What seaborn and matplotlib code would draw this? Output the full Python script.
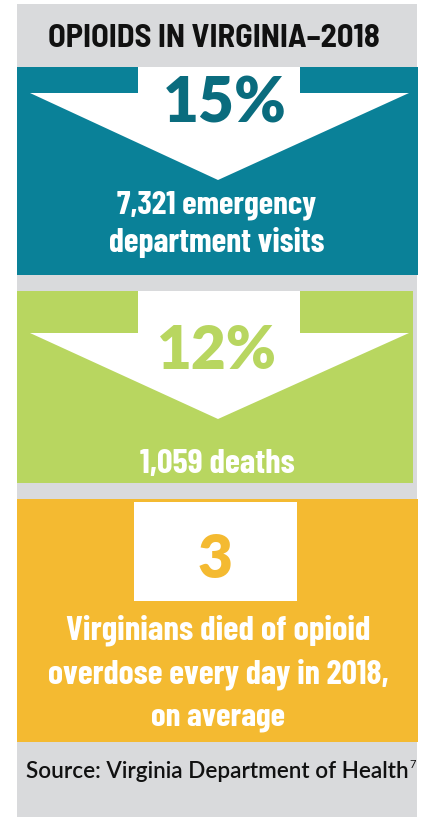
import matplotlib
matplotlib.use("Agg")
import matplotlib.pyplot as plt
from matplotlib.patches import Rectangle, Polygon
import seaborn as sns

# ---- data ----
title = "OPIOIDS IN VIRGINIA\u20132018"
big_values = ["15%", "12%", "3"]
captions = [
    ["7,321 emergency", "department visits"],
    ["1,059 deaths"],
    ["Virginians died of opioid", "overdose every day in 2018,", "on average"],
]
source = "Source: Virginia Department of Health"
source_note = "7"

sns.set_theme(style="white")
plt.rcParams["font.family"] = ["DejaVu Sans"]

W, H = 429, 817
fig = plt.figure(figsize=(W / 100, H / 100), dpi=100)
ax = fig.add_axes([0, 0, 1, 1])
ax.set_xlim(0, W)
ax.set_ylim(H, 0)
ax.axis("off")
renderer = fig.canvas.get_renderer()

COND = ["Barlow Condensed", "DejaVu Sans"]
SEMI = ["Barlow Semi Condensed", "Barlow Condensed", "DejaVu Sans"]
GEO = ["Lato", "DejaVu Sans"]


def fit(t, target_w):
    """Scale a text's font size so that it spans target_w pixels."""
    for _ in range(3):
        w = t.get_window_extent(renderer).width
        t.set_fontsize(t.get_fontsize() * target_w / w)
    return t


grey = "#D9DADC"
teal = "#0A8198"
teal_dark = "#0A6C7E"
green = "#B8D660"
orange = "#F4BA31"

ax.add_patch(Rectangle((17, 4), 400, H - 4, color=grey, lw=0))

# title
fit(ax.text(214, 47, title, ha="center", va="baseline", fontsize=30,
            fontweight="bold", color="#111111", family=SEMI), 332)


def arrow(top, head, tip):
    return Polygon([(138, top), (300, top), (300, head), (409, head),
                    (218, tip), (30, head), (138, head)],
                   closed=True, color="white", lw=0)


def caption(x, y, s, w):
    fit(ax.text(x, y, s, ha="center", va="baseline", fontsize=22,
                fontweight="bold", color="white", family=COND), w)


def big(x, y, s, c, w):
    fit(ax.text(x, y, s, ha="center", va="baseline", fontsize=44,
                fontweight="heavy", color=c, family=GEO), w)


# panel 1
ax.add_patch(Rectangle((17, 67), 401, 208, color=teal, lw=0))
ax.add_patch(arrow(67, 93, 180))
big(225, 122, big_values[0], teal_dark, 124)
caption(217, 213, captions[0][0], 199)
caption(217, 252, captions[0][1], 215)

# panel 2
ax.add_patch(Rectangle((17, 291), 396, 192, color=green, lw=0))
ax.add_patch(arrow(291, 333, 419))
big(217, 369, big_values[1], green, 120)
caption(217, 473, captions[1][0], 155)

# panel 3
ax.add_patch(Rectangle((17, 499), 401, 243, color=orange, lw=0))
ax.add_patch(Rectangle((134, 502), 163, 99, color="white", lw=0))
big(215, 578, big_values[2], orange, 35)
caption(218, 639, captions[2][0], 305)
caption(218, 683, captions[2][1], 341)
caption(218, 725, captions[2][2], 134)

# source
fit(ax.text(26, 778, source, ha="left", va="baseline", fontsize=15,
            fontweight="semibold", color="#111111", family=GEO), 382)
ax.text(409, 768, source_note, ha="left", va="baseline", fontsize=8,
        color="#111111", family=GEO)

fig.savefig("out.png", dpi=100)
